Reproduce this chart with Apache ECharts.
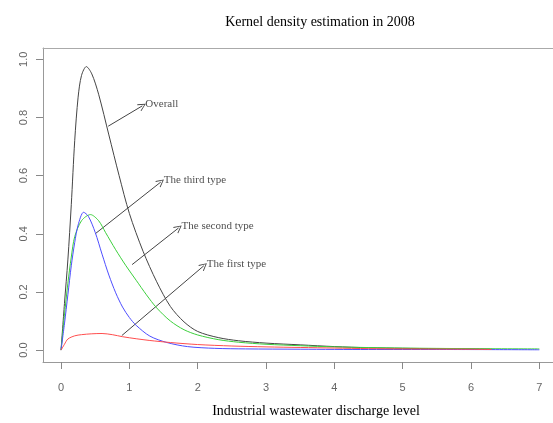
<!DOCTYPE html>
<html>
<head>
<meta charset="utf-8">
<script src="https://cdn.jsdelivr.net/npm/echarts@6/dist/echarts.min.js"></script>
<style>
  html, body { margin: 0; padding: 0; background: #fff; }
  #chart { width: 553px; height: 423px; }
</style>
</head>
<body>
<div id="chart"></div>
<script>
// density curves
const overallX = [0, 0.05, 0.1, 0.15, 0.2, 0.25, 0.3, 0.37, 0.45, 0.55, 0.7, 0.85, 1.0, 1.2, 1.4, 1.6, 1.8, 2.0, 2.3, 2.6, 3.0, 3.5, 4.0, 4.5, 5.0, 5.5, 6.0, 6.3];
const overallY = [0, 0.16, 0.31, 0.5, 0.72, 0.87, 0.945, 0.975, 0.95, 0.88, 0.74, 0.6, 0.47, 0.34, 0.235, 0.15, 0.097, 0.064, 0.043, 0.032, 0.024, 0.018, 0.012, 0.008, 0.006, 0.005, 0.004, 0.003];

const thirdX = [0, 0.05, 0.1, 0.15, 0.2, 0.25, 0.33, 0.4, 0.5, 0.6, 0.7, 0.8, 0.9, 1.0, 1.1, 1.3, 1.55, 1.85, 2.25, 2.7, 3.5, 4.5, 5.5, 7.0];
const thirdY = [0, 0.09, 0.19, 0.29, 0.37, 0.43, 0.474, 0.46, 0.405, 0.33, 0.258, 0.197, 0.148, 0.112, 0.085, 0.048, 0.026, 0.012, 0.006, 0.004, 0.003, 0.002, 0.002, 0.001];

const secondX = [0, 0.05, 0.1, 0.15, 0.2, 0.3, 0.43, 0.55, 0.65, 0.8, 0.95, 1.1, 1.25, 1.4, 1.6, 1.8, 2.0, 2.3, 2.6, 3.0, 3.5, 4.0, 5.0, 6.0, 7.0];
const secondY = [0, 0.12, 0.23, 0.32, 0.39, 0.445, 0.466, 0.445, 0.405, 0.345, 0.29, 0.24, 0.19, 0.145, 0.1, 0.07, 0.052, 0.036, 0.027, 0.02, 0.015, 0.011, 0.007, 0.005, 0.004];

const firstX = [0, 0.05, 0.1, 0.2, 0.3, 0.45, 0.6, 0.75, 0.9, 1.1, 1.3, 1.6, 2.0, 2.5, 3.0, 3.5, 4.0, 4.5, 5.0, 6.0, 6.3];
const firstY = [0, 0.02, 0.038, 0.049, 0.053, 0.056, 0.057, 0.053, 0.046, 0.039, 0.033, 0.026, 0.019, 0.014, 0.011, 0.009, 0.007, 0.005, 0.004, 0.003, 0.002];

// arrows with their labels
const annoText = ['Overall', 'The third type', 'The second type', 'The first type'];
const annoFrom = [[0.69, 0.77], [0.5, 0.40], [1.04, 0.294], [0.89, 0.05]];
const annoTo = [[1.19, 0.84], [1.46, 0.578], [1.72, 0.42], [2.09, 0.29]];

const xTicks = [0, 1, 2, 3, 4, 5, 6, 7];
const yTicks = [0, 0.2, 0.4, 0.6, 0.8, 1.0];

const zip = (xs, ys) => xs.map((x, i) => [x, ys[i]]);

const chart = echarts.init(document.getElementById('chart'));

const curve = (name, xs, ys, color) => ({
  name: name,
  type: 'line',
  data: zip(xs, ys),
  showSymbol: false,
  smooth: 0.3,
  lineStyle: { color: color, width: 1 },
  silent: true
});

const arrowHead = 'path://M5,0 L10,9 L9,9.6 L5,2 L1,9.6 L0,9 Z';

chart.setOption({
  animation: false,
  title: {
    text: 'Kernel density estimation in 2008',
    left: 315,
    top: 10,
    textAlign: 'center',
    textStyle: { fontFamily: 'Liberation Serif', fontSize: 14, fontWeight: 'normal', color: '#000' }
  },
  grid: { left: 43, top: 48, bottom: 57, right: 0 },
  xAxis: [{
    type: 'value',
    min: -0.264,
    max: 7.2,
    name: 'Industrial wastewater discharge level',
    nameLocation: 'middle',
    nameGap: 42,
    nameTextStyle: { fontFamily: 'Liberation Serif', fontSize: 14, color: '#000', padding: [0, 0, 0, 36] },
    splitLine: { show: false },
    axisLine: { onZero: false, lineStyle: { color: '#999', width: 1 } },
    axisTick: { length: 7, lineStyle: { color: '#888' }, customValues: xTicks },
    axisLabel: { customValues: xTicks, margin: 20, color: '#666', fontFamily: 'Liberation Sans', fontSize: 11 }
  }, {
    type: 'value',
    position: 'top',
    min: -0.264,
    max: 7.2,
    splitLine: { show: false },
    axisLine: { show: true, onZero: false, lineStyle: { color: '#aaa', width: 1 } },
    axisTick: { show: false },
    axisLabel: { show: false }
  }],
  yAxis: {
    type: 'value',
    min: -0.041,
    max: 1.039,
    splitLine: { show: false },
    axisLine: { show: true, onZero: false, lineStyle: { color: '#999', width: 1 } },
    axisTick: { show: true, length: 7, lineStyle: { color: '#888' }, customValues: yTicks },
    axisLabel: {
      customValues: yTicks,
      rotate: 90,
      margin: 14,
      color: '#666',
      fontFamily: 'Liberation Sans',
      fontSize: 11,
      formatter: v => v.toFixed(1)
    }
  },
  series: [
    curve('Overall', overallX, overallY, '#444'),
    curve('The second type', secondX, secondY, '#3ccf3c'),
    curve('The third type', thirdX, thirdY, '#4d4dff'),
    curve('The first type', firstX, firstY, '#ff4d4d'),
    {
      type: 'lines',
      coordinateSystem: 'cartesian2d',
      silent: true,
      symbol: ['none', arrowHead],
      symbolSize: [9, 8],
      lineStyle: { color: '#444', width: 1, opacity: 1, curveness: 0 },
      data: annoFrom.map((p, i) => ({ coords: [p, annoTo[i]] }))
    },
    {
      type: 'scatter',
      silent: true,
      symbolSize: 0,
      data: annoTo.map((p, i) => [p[0], p[1], annoText[i]]),
      label: {
        show: true,
        position: 'right',
        distance: 3,
        offset: [0, -2],
        formatter: p => p.value[2],
        fontFamily: 'Liberation Serif',
        fontSize: 11,
        color: '#222'
      }
    }
  ]
});
</script>
</body>
</html>
